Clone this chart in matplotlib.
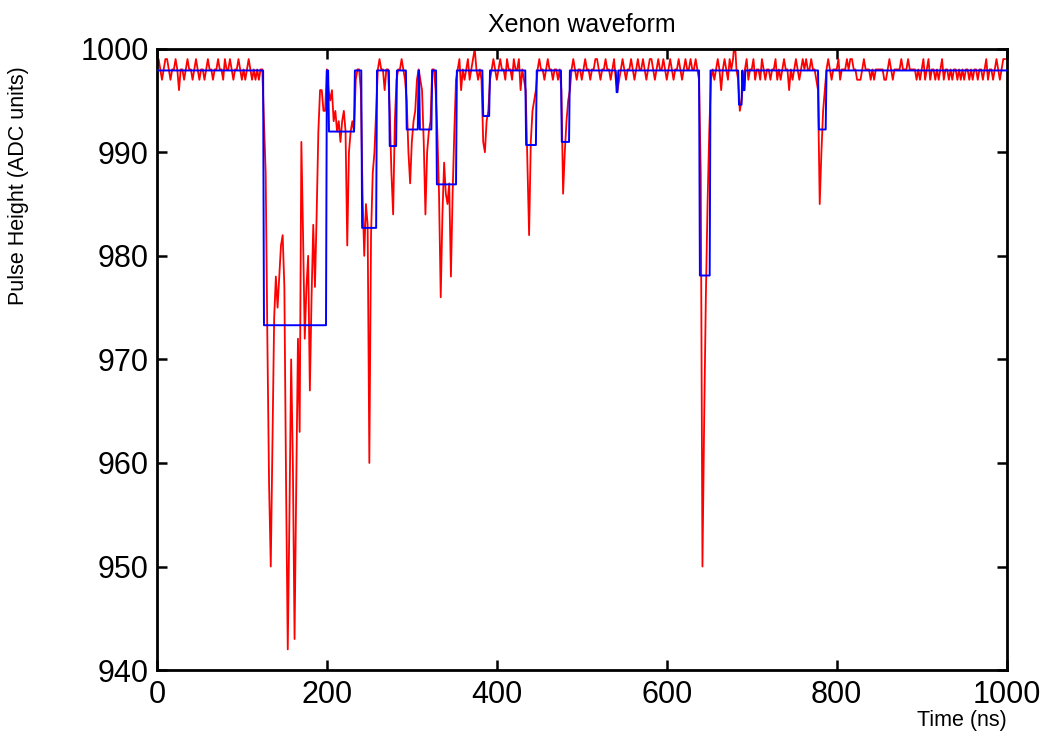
import numpy as np
import matplotlib
matplotlib.use("Agg")
import matplotlib.pyplot as plt

plt.rcParams['font.family'] = ['Liberation Sans', 'DejaVu Sans']

# digitiser samples, one every 2 ns (ADC counts)
dt = 2
adc = [
    998, 999, 998, 997, 998, 999, 999, 998, 997, 998, 998, 999, 998, 996, 998, 998, 997, 998, 999, 998, 998, 997, 998, 999, 998,
    997, 998, 998, 997, 998, 999, 998, 998, 997, 998, 998, 999, 998, 998, 997, 999, 998, 998, 999, 998, 997, 998, 998, 999, 998,
    997, 998, 997, 998, 999, 998, 997, 998, 997, 998, 997, 998, 998, 993, 988, 972, 958, 950, 962, 974, 978, 975, 978, 981, 982,
    977, 958, 942, 955, 970, 960, 943, 958, 972, 963, 991, 982, 972, 977, 980, 967, 976, 983, 977, 984, 992, 996, 996, 994, 994,
    998, 996, 995, 996, 993, 994, 992, 993, 991, 993, 994, 992, 981, 990, 992, 993, 992, 997, 998, 998, 996, 986, 980, 985, 983,
    960, 982, 988, 990, 994, 998, 999, 998, 998, 996, 998, 998, 994, 988, 984, 993, 997, 998, 998, 999, 998, 997, 995, 990, 987,
    991, 993, 994, 997, 998, 997, 996, 991, 984, 990, 992, 993, 998, 998, 996, 992, 986, 976, 984, 989, 986, 985, 987, 978, 986,
    992, 997, 998, 999, 996, 998, 997, 998, 999, 997, 998, 999, 1000, 998, 997, 998, 997, 991, 990, 993, 994, 997, 998, 999, 998,
    997, 998, 999, 998, 998, 997, 999, 998, 998, 997, 999, 998, 998, 999, 996, 998, 997, 996, 989, 982, 991, 994, 995, 996, 998,
    999, 998, 998, 997, 998, 999, 998, 998, 997, 998, 998, 997, 998, 996, 986, 990, 993, 995, 996, 998, 999, 998, 997, 998, 998,
    997, 998, 999, 998, 998, 997, 998, 998, 999, 999, 998, 997, 998, 998, 999, 998, 998, 997, 998, 999, 997, 996, 997, 998, 999,
    998, 997, 998, 998, 999, 998, 997, 998, 999, 998, 998, 999, 998, 997, 998, 999, 999, 998, 997, 998, 999, 998, 998, 999, 998,
    997, 998, 999, 998, 997, 998, 998, 999, 998, 997, 998, 999, 998, 998, 999, 998, 998, 999, 998, 997, 988, 950, 964, 976, 985,
    992, 997, 998, 997, 998, 999, 998, 996, 998, 999, 998, 997, 999, 998, 999, 1001, 998, 997, 994, 995, 997, 998, 999, 997, 998,
    998, 999, 997, 998, 998, 997, 999, 998, 997, 998, 998, 997, 998, 998, 999, 997, 998, 997, 998, 999, 998, 998, 996, 998, 997,
    998, 999, 998, 997, 998, 999, 998, 999, 998, 998, 999, 998, 998, 997, 996, 985, 990, 994, 996, 998, 999, 998, 997, 998, 998,
    998, 999, 997, 998, 998, 998, 999, 998, 999, 999, 998, 998, 997, 997, 997, 998, 999, 998, 998, 998, 997, 998, 997, 998, 998,
    998, 998, 998, 997, 997, 998, 999, 998, 997, 998, 998, 998, 998, 999, 998, 998, 998, 999, 998, 998, 998, 998, 997, 998, 997,
    998, 999, 997, 998, 999, 997, 998, 998, 997, 998, 997, 998, 999, 997, 998, 998, 997, 998, 997, 998, 998, 997, 998, 997, 998,
    997, 998, 998, 997, 998, 997, 998, 998, 997, 998, 998, 997, 998, 999, 997, 998, 998, 997, 998, 999, 998, 997, 998, 999, 999,
]
t = np.arange(len(adc)) * dt

# found pulses: start (ns), end (ns), mean level
pulse_start = [125, 201.5, 240.5, 273, 293, 308.5, 328.5, 383, 433.5, 475.5, 540, 638, 684, 689, 778]
pulse_end = [200, 233, 259, 282.5, 308, 324, 353, 392, 447, 486, 543, 651.5, 689, 692.5, 788]
pulse_level = [973.3, 992.0, 982.7, 990.6, 992.2, 992.2, 986.9, 993.5, 990.7, 991.0, 995.8, 978.1, 994.6, 996.0, 992.2]
baseline = 997.9

# build the step trace of the pulse finder
ramp = 1.0
bx = [0]
by = [baseline]
for s, e, lv in zip(pulse_start, pulse_end, pulse_level):
    bx += [s, s + ramp, e - ramp, e]
    by += [baseline, lv, lv, baseline]
bx.append(1000)
by.append(baseline)

fig = plt.figure(figsize=(10.53, 7.38), dpi=100)
ax = fig.add_axes([0.149, 0.092, 0.807, 0.842])

ax.plot(t, adc, color="red", lw=1.3, zorder=2)
ax.plot(bx, by, color="blue", lw=1.4, zorder=3)

ax.set_xlim(0, 1000)
ax.set_ylim(940, 1000)
ax.set_xticks(range(0, 1001, 200))
ax.set_yticks(range(940, 1001, 10))
ax.tick_params(direction="in", length=7, width=1.8, labelsize=22,
               top=True, right=True, pad=7)
ax.tick_params(axis="y", pad=6)
for sp in ax.spines.values():
    sp.set_linewidth(2.0)

ax.set_title("Xenon waveform", fontsize=18, pad=12)
ax.set_xlabel("Time (ns)", fontsize=15.5, loc="right", labelpad=0)
ax.set_ylabel("Pulse Height (ADC units)", fontsize=15.5)
ax.yaxis.set_label_coords(-0.151, 0.78)

fig.savefig("out.png", dpi=100)
